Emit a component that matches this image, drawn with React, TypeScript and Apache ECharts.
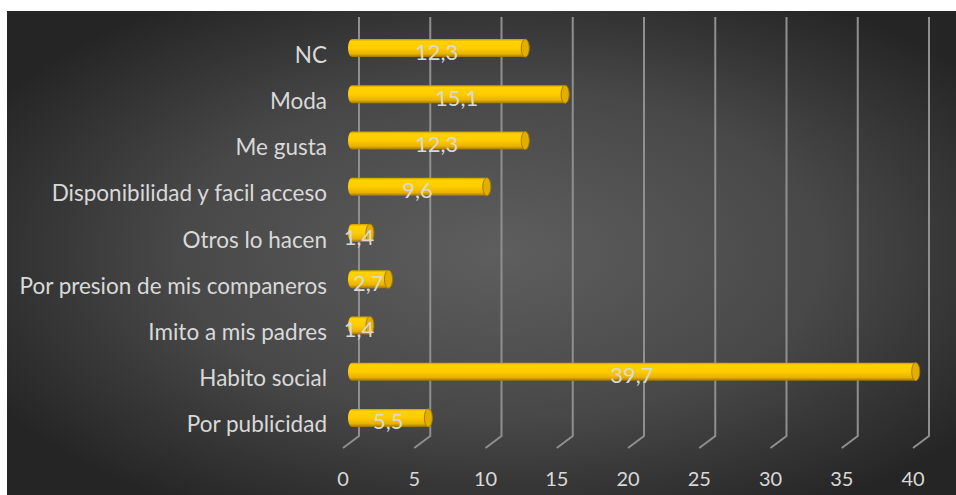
import React, { useEffect, useRef } from "react";
import * as echarts from "echarts";

const categories = [
  "Por publicidad",
  "Habito social",
  "Imito a mis padres",
  "Por presion de mis companeros",
  "Otros lo hacen",
  "Disponibilidad y facil acceso",
  "Me gusta",
  "Moda",
  "NC",
];
const values = [5.5, 39.7, 1.4, 2.7, 1.4, 9.6, 12.3, 15.1, 12.3];
const xTicks = [0, 5, 10, 15, 20, 25, 30, 35, 40];

const FONT = "Lato";
const TEXT = "#d9d9d9";

export default function App() {
  const ref = useRef<HTMLDivElement>(null);
  useEffect(() => {
    if (!ref.current) return;
    const chart = echarts.init(ref.current, null, { renderer: "svg" });
    const barGrad = new echarts.graphic.LinearGradient(0, 0, 0, 1, [
      { offset: 0, color: "#c99a00" },
      { offset: 0.12, color: "#ffd200" },
      { offset: 0.5, color: "#ffcc00" },
      { offset: 0.82, color: "#e9b200" },
      { offset: 1, color: "#9c7400" },
    ]);
    const option: any = {
      animation: false,
      backgroundColor: "#ffffff",
      graphic: [
        {
          type: "rect",
          z: -10,
          silent: true,
          shape: { x: 7, y: 11, width: 949, height: 484 },
          style: {
            fill: new echarts.graphic.RadialGradient(0.52, 0.5, 0.62, [
              { offset: 0, color: "#5e5e5e" },
              { offset: 0.55, color: "#484848" },
              { offset: 1, color: "#252525" },
            ]),
          },
        },
      ],
      grid: { left: 350, right: 36, top: 25, bottom: 54, containLabel: false },
      xAxis: {
        type: "value",
        min: 0,
        max: 40,
        interval: 5,
        axisLine: { show: false },
        axisTick: { show: false },
        splitLine: { show: false },
        axisLabel: {
          color: TEXT,
          fontFamily: FONT,
          fontSize: 20,
          margin: 27,
          padding: [0, 14, 0, 0],
          formatter: (v: number) => (xTicks.includes(v) ? String(v) : ""),
        },
      },
      yAxis: {
        type: "category",
        data: categories,
        axisLine: { show: false },
        axisTick: { show: false },
        splitLine: { show: false },
        axisLabel: {
          color: TEXT,
          fontFamily: FONT,
          fontSize: 22.5,
          margin: 23,
          verticalAlign: "top",
          lineHeight: 12,
        },
      },
      series: [
        {
          type: "custom",
          z: 1,
          silent: true,
          data: xTicks.map((t) => [t, 0]),
          encode: { x: 0, y: 1 },
          renderItem: (params: any, api: any) => {
            const x = api.coord([api.value(0), 0])[0];
            const cs = params.coordSys;
            const bottom = cs.y + cs.height;
            return {
              type: "polyline",
              shape: {
                points: [
                  [x + 9, cs.y - 8],
                  [x + 9, bottom - 5],
                  [x - 7, bottom + 7],
                ],
              },
              style: { stroke: "#8f8f8f", lineWidth: 2, fill: "none" },
            };
          },
        },
        {
          type: "custom",
          z: 5,
          data: values.map((v, i) => [v, i]),
          encode: { x: 0, y: 1 },
          renderItem: (params: any, api: any) => {
            const v = api.value(0);
            const idx = api.value(1);
            const s = api.coord([0, idx]);
            const e = api.coord([v, idx]);
            const h = 18;
            const cy = s[1];
            const x0 = s[0] - 2;
            const x1 = Math.max(e[0], x0 + 8);
            const label = String(v).replace(".", ",");
            return {
              type: "group",
              children: [
                {
                  type: "ellipse",
                  shape: { cx: x0 + 4, cy, rx: 4, ry: h / 2 },
                  style: { fill: barGrad },
                },
                {
                  type: "rect",
                  shape: { x: x0 + 4, y: cy - h / 2, width: x1 - x0 - 4, height: h },
                  style: { fill: barGrad },
                },
                {
                  type: "ellipse",
                  shape: { cx: x1, cy, rx: 4, ry: h / 2 },
                  style: { fill: "#e4ae00", stroke: "#a37a00", lineWidth: 1 },
                },
                {
                  type: "text",
                  style: {
                    text: label,
                    x: (x0 + x1) / 2,
                    y: cy + 3,
                    align: "center",
                    verticalAlign: "middle",
                    fill: TEXT,
                    fontFamily: FONT,
                    fontSize: 22,
                  },
                },
              ],
            };
          },
        },
      ],
    };
    chart.setOption(option);
    return () => chart.dispose();
  }, []);
  return (
    <div
      ref={ref}
      style={{ position: "fixed", left: 0, top: 0, width: 956, height: 495 }}
    />
  );
}
